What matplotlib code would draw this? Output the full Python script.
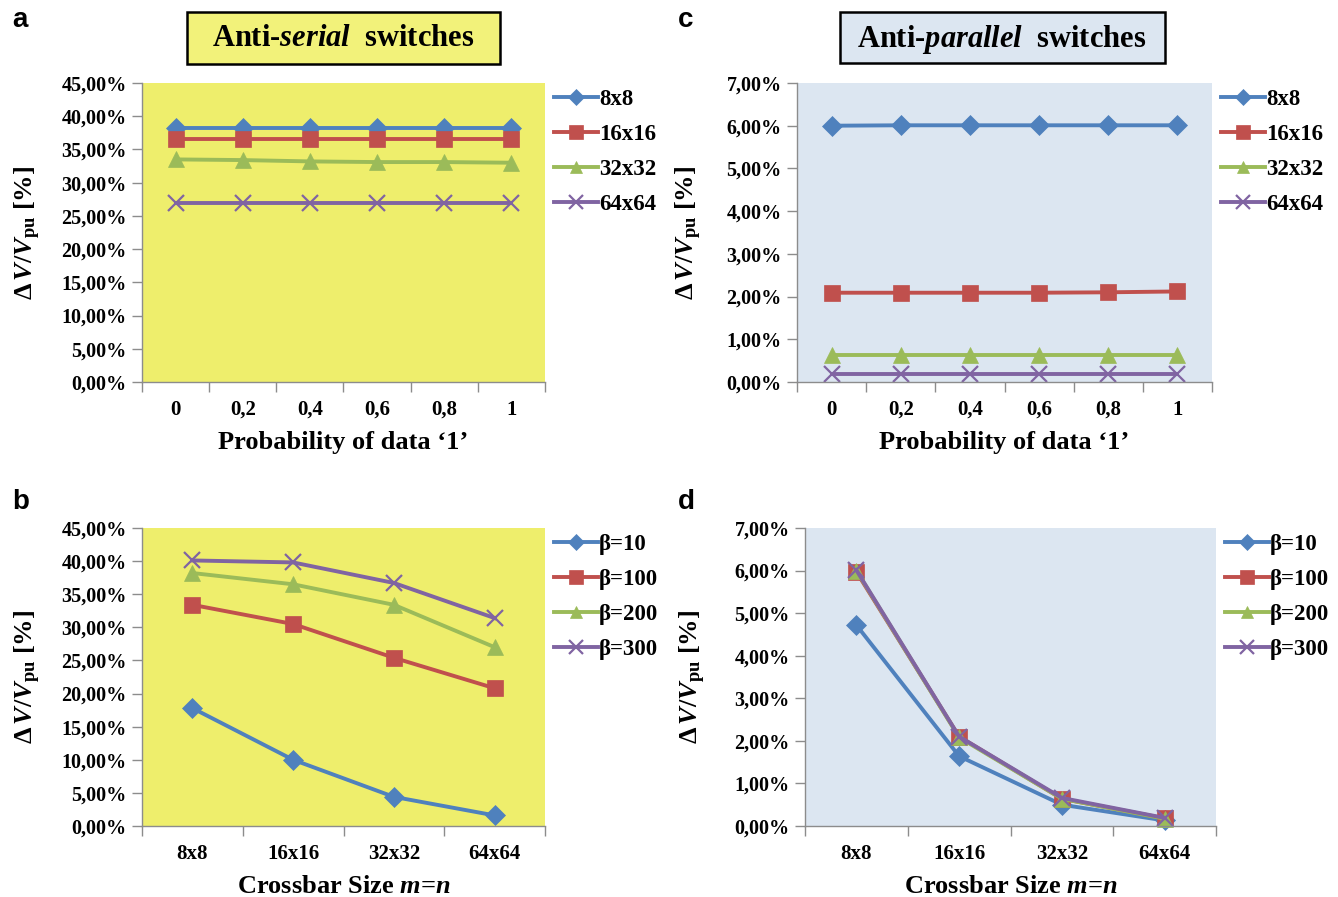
import numpy as np
import matplotlib
matplotlib.use('Agg')
import matplotlib.pyplot as plt
from matplotlib.patches import Rectangle
from matplotlib.ticker import FuncFormatter

# fonts: Times-like bold everywhere
plt.rcParams['font.family'] = 'Liberation Serif'
plt.rcParams['font.weight'] = 'bold'
plt.rcParams['mathtext.fontset'] = 'custom'
plt.rcParams['mathtext.rm'] = 'Liberation Serif:bold'
plt.rcParams['mathtext.it'] = 'Liberation Serif:italic'
plt.rcParams['mathtext.bf'] = 'Liberation Serif:bold'

# ---- data ----
prob_labels = ['0', '0,2', '0,4', '0,6', '0,8', '1']
size_labels = ['8x8', '16x16', '32x32', '64x64']
beta_labels = ['β=10', 'β=100', 'β=200', 'β=300']

# panel a: anti-serial, vs probability of data '1'
serial_8x8 = [38.2, 38.2, 38.2, 38.2, 38.2, 38.2]
serial_16x16 = [36.5, 36.5, 36.5, 36.5, 36.5, 36.5]
serial_32x32 = [33.5, 33.4, 33.2, 33.1, 33.1, 33.0]
serial_64x64 = [27.0, 27.0, 27.0, 27.0, 27.0, 27.0]

# panel c: anti-parallel, vs probability of data '1'
parallel_8x8 = [6.00, 6.01, 6.01, 6.01, 6.01, 6.01]
parallel_16x16 = [2.09, 2.09, 2.09, 2.09, 2.10, 2.12]
parallel_32x32 = [0.64, 0.64, 0.64, 0.64, 0.64, 0.64]
parallel_64x64 = [0.18, 0.18, 0.18, 0.18, 0.18, 0.18]

# panel b: anti-serial, vs crossbar size
serial_b10 = [17.8, 10.0, 4.4, 1.6]
serial_b100 = [33.4, 30.5, 25.4, 20.8]
serial_b200 = [38.2, 36.5, 33.4, 27.0]
serial_b300 = [40.1, 39.8, 36.7, 31.4]

# panel d: anti-parallel, vs crossbar size
parallel_b10 = [4.72, 1.64, 0.50, 0.13]
parallel_b100 = [5.97, 2.10, 0.64, 0.18]
parallel_b200 = [6.00, 2.08, 0.64, 0.17]
parallel_b300 = [6.01, 2.10, 0.66, 0.19]

colors = ['#4F81BD', '#C0504D', '#9BBB59', '#8064A2']
markers = ['D', 's', '^', 'x']
msizes = [10, 12, 11, 12]
yellow_bg = '#EEEE6C'
blue_bg = '#DCE6F1'
spine_col = '#8C8C8C'

W, H = 1338, 897
fig = plt.figure(figsize=(W / 100, H / 100), dpi=100)


def px_axes(left, top, right, bottom):
    return fig.add_axes([left / W, 1 - bottom / H, (right - left) / W, (bottom - top) / H])


def pct(v, pos):
    return ('%.2f%%' % v).replace('.', ',')


def draw_panel(ax, xlabels, series, labels, ymax, ystep, bg, xlabel, ylab_x):
    x = np.arange(len(xlabels))
    for i, s in enumerate(series):
        ax.plot(x, s, color=colors[i], marker=markers[i], markersize=msizes[i],
                linewidth=2.8, markeredgewidth=1.6 if markers[i] == 'x' else 0.5,
                markeredgecolor=colors[i], label=labels[i], clip_on=False)
    ax.set_facecolor(bg)
    ax.set_xlim(-0.5, len(xlabels) - 0.5)
    ax.set_ylim(0, ymax)
    ax.set_yticks(np.arange(0, ymax + ystep / 2, ystep))
    ax.yaxis.set_major_formatter(FuncFormatter(pct))
    ax.set_xticks(x)
    ax.set_xticklabels(xlabels)
    ax.set_xticks(np.arange(-0.5, len(xlabels)), minor=True)
    ax.tick_params(axis='x', which='major', length=0, pad=13, labelsize=15)
    ax.tick_params(axis='x', which='minor', length=7, color=spine_col, width=1)
    ax.tick_params(axis='y', length=7, color=spine_col, width=1, labelsize=14.5, pad=4)
    for side in ['top', 'right']:
        ax.spines[side].set_visible(False)
    for side in ['left', 'bottom']:
        ax.spines[side].set_color(spine_col)
        ax.spines[side].set_linewidth(1)
    ax.set_xlabel(xlabel, fontsize=19, fontweight='bold')
    ax.xaxis.set_label_coords(0.5, -0.163)
    ax.set_ylabel(r'$\Delta\,\mathit{V}/\mathit{V}_{\mathbf{pu}}$ [%]', fontsize=19, fontweight='bold')
    ax.yaxis.set_label_coords(ylab_x, 0.5)
    leg = ax.legend(loc='upper left', bbox_to_anchor=(1.0, 1.01), frameon=False,
                    fontsize=16.5, handlelength=1.9, handletextpad=0.05,
                    labelspacing=0.6, borderaxespad=0.3, borderpad=0.1,
                    markerscale=0.8)
    return leg


ax_a = px_axes(142, 83, 545, 382)
draw_panel(ax_a, prob_labels, [serial_8x8, serial_16x16, serial_32x32, serial_64x64],
           size_labels, 45, 5, yellow_bg, 'Probability of data ‘1’', -0.245)

ax_c = px_axes(797, 83, 1212, 382)
draw_panel(ax_c, prob_labels, [parallel_8x8, parallel_16x16, parallel_32x32, parallel_64x64],
           size_labels, 7, 1, blue_bg, 'Probability of data ‘1’', -0.225)

ax_b = px_axes(142, 528, 545, 826)
draw_panel(ax_b, size_labels, [serial_b10, serial_b100, serial_b200, serial_b300],
           beta_labels, 45, 5, yellow_bg, r'Crossbar Size $m$=$n$', -0.245)

ax_d = px_axes(805, 528, 1216, 826)
draw_panel(ax_d, size_labels, [parallel_b10, parallel_b100, parallel_b200, parallel_b300],
           beta_labels, 7, 1, blue_bg, r'Crossbar Size $m$=$n$', -0.235)

# title boxes
fig.patches.append(Rectangle((187 / W, 1 - 64 / H), 313 / W, 52 / H, transform=fig.transFigure,
                             facecolor='#F2F27A', edgecolor='black', linewidth=1.8))
fig.text(343 / W, 1 - 39 / H, r'Anti-$\mathit{serial}$  switches', fontsize=22,
         fontweight='bold', ha='center', va='center')
fig.patches.append(Rectangle((840 / W, 1 - 63 / H), 325 / W, 51 / H, transform=fig.transFigure,
                             facecolor='#DCE6F1', edgecolor='black', linewidth=1.8))
fig.text(1002 / W, 1 - 39 / H, r'Anti-$\mathit{parallel}$  switches', fontsize=22,
         fontweight='bold', ha='center', va='center')

# panel letters
for letter, xp, yp in [('a', 12, 20), ('b', 12, 502), ('c', 678, 20), ('d', 678, 502)]:
    fig.text(xp / W, 1 - yp / H, letter, fontsize=20, fontweight='bold',
             family='Liberation Sans', ha='left', va='center')

fig.savefig('out.png', dpi=100)
